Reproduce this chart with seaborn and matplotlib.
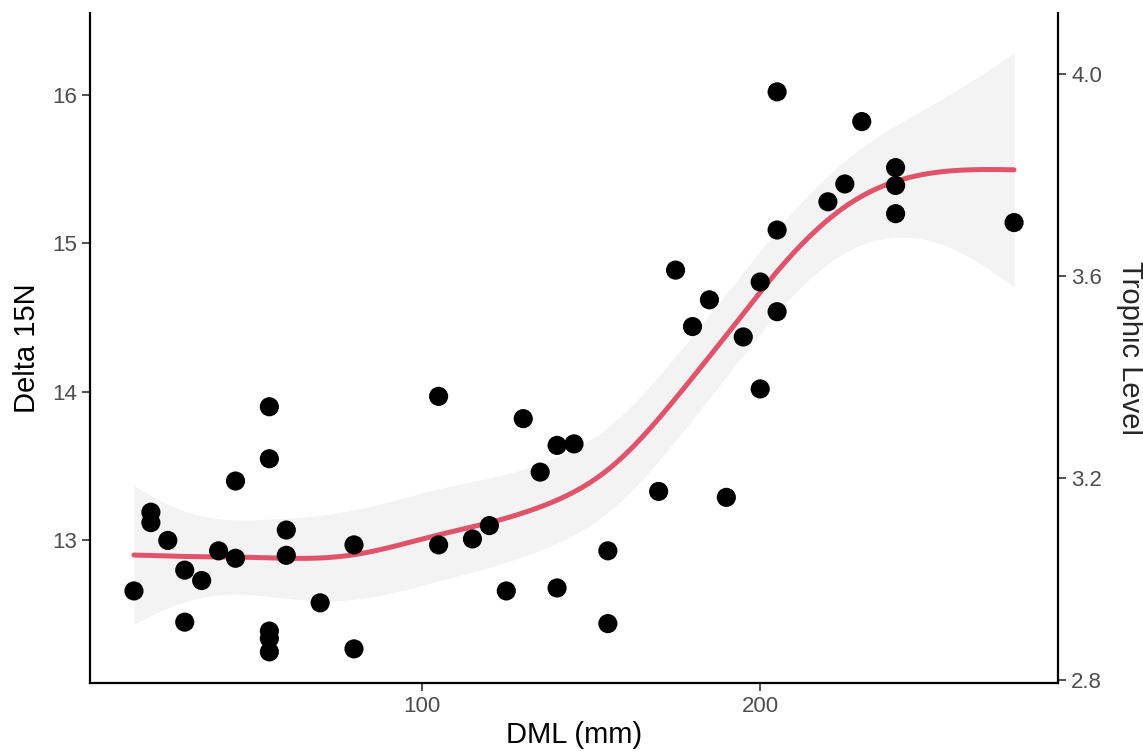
import numpy as np
import pandas as pd
import seaborn as sns
import matplotlib.pyplot as plt

# dorsal mantle length (mm) and delta 15N
dml = [15, 20, 20, 25, 30, 30, 35, 40, 45, 45, 55, 55, 55, 55, 55, 60, 60, 70, 80, 80,
       105, 105, 115, 120, 125, 130, 135, 140, 140, 145, 155, 155, 170, 175, 180, 185,
       190, 195, 200, 200, 205, 205, 205, 220, 225, 230, 240, 240, 240, 275]
d15n = [12.66, 13.19, 13.12, 13.00, 12.80, 12.45, 12.73, 12.93, 13.40, 12.88,
        13.90, 13.55, 12.39, 12.34, 12.25, 13.07, 12.90, 12.58, 12.97, 12.27,
        13.97, 12.97, 13.01, 13.10, 12.66, 13.82, 13.46, 13.64, 12.68, 13.65,
        12.93, 12.44, 13.33, 14.82, 14.44, 14.62, 13.29, 14.37, 14.74, 14.02,
        16.02, 15.09, 14.54, 15.28, 15.40, 15.82, 15.51, 15.39, 15.20, 15.14]

tl_ticks = [2.8, 3.2, 3.6, 4.0]
base_n = 9.34      # baseline delta 15N
enrich = 3.4       # per trophic step

df = pd.DataFrame({"DML": dml, "d15N": d15n})

# ---- cubic smoothing spline (Reinsch form), lambda by GCV ----
agg = df.groupby("DML")["d15N"].agg(["mean", "count"])
t = agg.index.values.astype(float)
span_x = t.max() - t.min()
tt = (t - t.min()) / span_x
ybar = agg["mean"].values
w = agg["count"].values.astype(float)
m = len(tt)
h = np.diff(tt)
Q = np.zeros((m, m - 2))
Rm = np.zeros((m - 2, m - 2))
for j in range(1, m - 1):
    Q[j - 1, j - 1] = 1 / h[j - 1]
    Q[j, j - 1] = -1 / h[j - 1] - 1 / h[j]
    Q[j + 1, j - 1] = 1 / h[j]
    Rm[j - 1, j - 1] = (h[j - 1] + h[j]) / 3
    if j < m - 2:
        Rm[j - 1, j] = Rm[j, j - 1] = h[j] / 6
K = Q @ np.linalg.solve(Rm, Q.T)
W = np.diag(w)
n = len(df)
yv = df["d15N"].values
idx = np.searchsorted(t, df["DML"].values)


def smoother(lam):
    return np.linalg.solve(W + lam * K, W)


best = None
for lam in np.logspace(-7, 1, 161):
    S = smoother(lam)
    g = S @ ybar
    rss = np.sum((yv - g[idx]) ** 2)
    gcv = n * rss / (n - np.trace(S)) ** 2
    if best is None or gcv < best[0]:
        best = (gcv, lam)
lam = best[1]
S = smoother(lam)
g = S @ ybar
rss = np.sum((yv - g[idx]) ** 2)
sigma2 = rss / (n - np.trace(S))

# interpolation matrix from knot values to a fine grid
grid = np.linspace(t.min(), t.max(), 200)
gg = (grid - t.min()) / span_x
Gam = np.vstack([np.zeros(m), np.linalg.solve(Rm, Q.T), np.zeros(m)])
seg = np.clip(np.searchsorted(tt, gg, side="right") - 1, 0, m - 2)
E = np.zeros((len(gg), m))
for r, (x0, i) in enumerate(zip(gg, seg)):
    a, b = x0 - tt[i], tt[i + 1] - x0
    E[r, i] += b / h[i]
    E[r, i + 1] += a / h[i]
    E[r] -= a * b / 6 * ((1 + a / h[i]) * Gam[i + 1] + (1 + b / h[i]) * Gam[i])
fit = E @ g
A = E @ S
se = np.sqrt(np.sum(A ** 2 / w, axis=1) * sigma2)
smooth = pd.DataFrame({"DML": grid, "fit": fit,
                       "lo": fit - 2.03 * se, "hi": fit + 2.03 * se})

sns.set_theme(style="ticks")
plt.rcParams["font.family"] = ["Liberation Sans", "DejaVu Sans"]

fig = plt.figure(figsize=(11.43, 7.51), dpi=100)
ax = fig.add_axes([0.0787, 0.0905, 0.847, 0.892])

ax.fill_between(smooth["DML"], smooth["lo"], smooth["hi"], color="#F3F3F3", lw=0, zorder=1)
sns.lineplot(data=smooth, x="DML", y="fit", color="#DF536B", lw=3.6, ax=ax, zorder=2)
sns.scatterplot(data=df, x="DML", y="d15N", color="black", s=190, edgecolor="none",
                ax=ax, zorder=3)

ax.set_xlim(2, 288)
ax.set_ylim(12.04, 16.55)
ax.set_xticks([100, 200])
ax.set_yticks([13, 14, 15, 16])
ax.set_xlabel("DML (mm)", fontsize=21, color="black", labelpad=3)
ax.set_ylabel("Delta 15N", fontsize=21, color="black", labelpad=8)
ax.tick_params(labelsize=16, labelcolor="#4D4D4D", color="#333333", length=6, width=1.2)
for side in ["top", "right"]:
    ax.spines[side].set_visible(False)
for side in ["left", "bottom"]:
    ax.spines[side].set_linewidth(1.6)
    ax.spines[side].set_color("black")

sec = ax.secondary_yaxis("right",
                         functions=(lambda d: (d - base_n) / enrich + 2,
                                    lambda t: (t - 2) * enrich + base_n))
sec.set_yticks(tl_ticks)
sec.set_yticklabels([f"{v:.1f}" for v in tl_ticks])
sec.set_ylabel("Trophic Level", fontsize=21, rotation=270, va="bottom", labelpad=10)
sec.tick_params(labelsize=16, labelcolor="#4D4D4D", color="#333333", length=6, width=1.2)
sec.spines["right"].set_linewidth(1.6)
sec.spines["right"].set_color("black")

fig.savefig("out.png", dpi=100)
